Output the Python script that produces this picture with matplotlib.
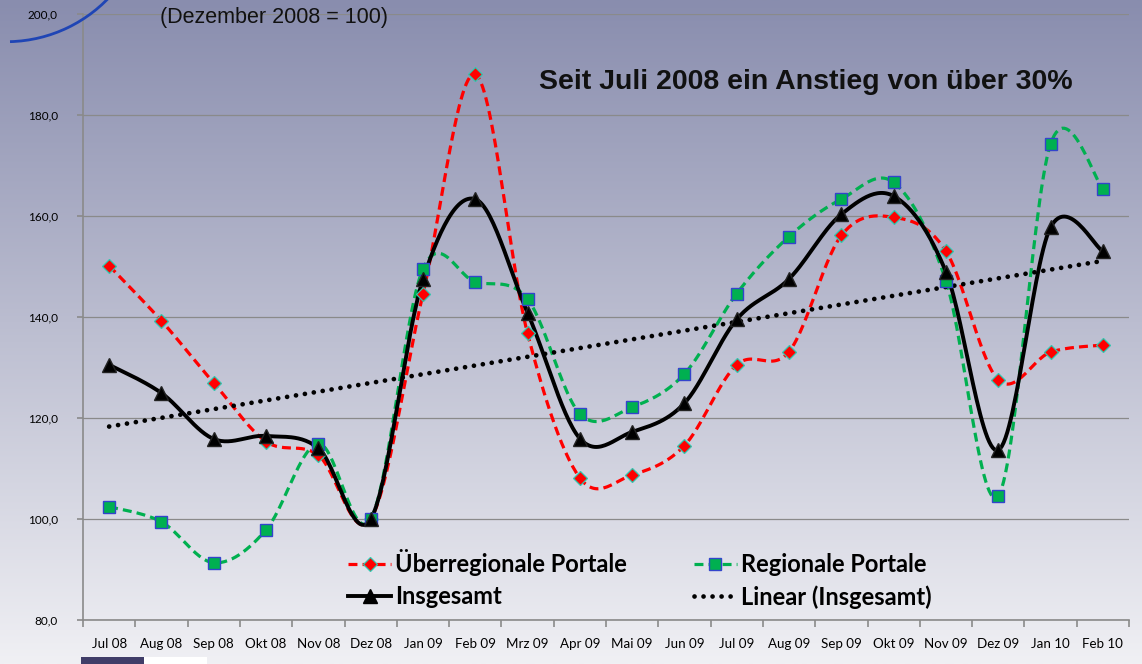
import numpy as np
import matplotlib
matplotlib.use("Agg")
import matplotlib.pyplot as plt
from matplotlib.lines import Line2D
from matplotlib.patches import Arc, Rectangle
from matplotlib.transforms import IdentityTransform
from matplotlib.ticker import FuncFormatter, FixedLocator

# --- data (index, Dezember 2008 = 100) ---
months = ["Jul 08", "Aug 08", "Sep 08", "Okt 08", "Nov 08", "Dez 08", "Jan 09",
          "Feb 09", "Mrz 09", "Apr 09", "Mai 09", "Jun 09", "Jul 09", "Aug 09",
          "Sep 09", "Okt 09", "Nov 09", "Dez 09", "Jan 10", "Feb 10"]
ueberregional = [150.2, 139.3, 127.0, 115.4, 112.7, 100.0, 144.6, 188.1, 136.8, 108.2,
                 108.8, 114.6, 130.6, 133.2, 156.2, 159.8, 153.1, 127.6, 133.1, 134.5]
regional = [102.5, 99.5, 91.4, 97.9, 115.0, 100.0, 149.6, 147.0, 143.6, 120.9,
            122.2, 128.8, 144.7, 156.0, 163.4, 166.7, 147.2, 104.6, 174.3, 165.5]
insgesamt = [130.6, 125.0, 115.9, 116.5, 114.1, 100.0, 147.5, 163.4, 140.9, 116.0,
             117.3, 123.0, 139.6, 147.6, 160.4, 164.0, 149.0, 113.7, 157.8, 153.1]

title_sub = "(Dezember 2008 = 100)"
note = "Seit Juli 2008 ein Anstieg von über 30%"


def excel_smooth(values, steps=30):
    """Bezier smoothing like Excel's 'smoothed line' option."""
    y = np.asarray(values, dtype=float)
    pts = np.column_stack([np.arange(len(y), dtype=float), y])
    ext = np.vstack([pts[0], pts, pts[-1]])
    t = np.linspace(0, 1, steps)[:, None]
    out = []
    for i in range(len(pts) - 1):
        p0, p1, p2, p3 = ext[i], ext[i + 1], ext[i + 2], ext[i + 3]
        c1 = p1 + (p2 - p0) / 6.0
        c2 = p2 - (p3 - p1) / 6.0
        seg = (1 - t) ** 3 * p1 + 3 * (1 - t) ** 2 * t * c1 + 3 * (1 - t) * t ** 2 * c2 + t ** 3 * p2
        out.append(seg if i == 0 else seg[1:])
    out = np.vstack(out)
    return out[:, 0], out[:, 1]


W, H = 1142, 664
fig = plt.figure(figsize=(W / 100, H / 100), dpi=100)

# gradient background
bg = fig.add_axes([0, 0, 1, 1], zorder=0)
top = np.array([137, 141, 174]) / 255
bottom = np.array([240, 240, 244]) / 255
tt = np.linspace(0, 1, 256)[:, None]
grad = (1 - tt) * top + tt * bottom
bg.imshow(grad[:, None, :], aspect="auto", extent=[0, 1, 0, 1])
bg.set_axis_off()

x = np.arange(len(months))
ax = fig.add_axes([83 / W, (H - 620.3) / H, (1129 - 83) / W, 606 / H], zorder=1)
ax.patch.set_alpha(0)

ax.set_xlim(-0.5, len(months) - 0.5)
ax.set_ylim(80, 200)
ax.set_yticks(np.arange(80, 201, 20))
ax.yaxis.set_major_formatter(FuncFormatter(lambda v, p: f"{v:.1f}".replace(".", ",")))
ax.grid(axis="y", color="#8a8a8a", linewidth=0.9)
ax.set_axisbelow(True)
for s in ["top", "right"]:
    ax.spines[s].set_visible(False)
for s in ["left", "bottom"]:
    ax.spines[s].set_color("#8a8a8a")
    ax.spines[s].set_linewidth(1.2)

# category labels centred, tick marks between categories
ax.set_xticks(x)
ax.set_xticklabels(months, fontfamily="Lato", fontsize=9.6)
ax.tick_params(axis="x", length=0, pad=13)
ax.xaxis.set_minor_locator(FixedLocator(np.arange(-0.5, len(months), 1)))
ax.tick_params(axis="x", which="minor", length=5, color="#8a8a8a", width=1.2)
ax.tick_params(axis="y", length=4, color="#8a8a8a", width=1.2, labelsize=8.5, pad=14)
for lbl in ax.get_yticklabels():
    lbl.set_fontfamily("Lato")

# series
xs, ys = excel_smooth(ueberregional)
ax.plot(xs, ys, color="#ff0000", lw=2.3, ls=(0, (2.8, 1.6)), zorder=3)
ax.plot(x, ueberregional, ls="none", marker="D", ms=7.2, mfc="#ff0000",
        mec="#30c8b0", mew=0.9, zorder=5)

xs, ys = excel_smooth(regional)
ax.plot(xs, ys, color="#00b050", lw=2.3, ls=(0, (2.8, 1.6)), zorder=3)
ax.plot(x, regional, ls="none", marker="s", ms=8, mfc="#00b050",
        mec="#3344cc", mew=1.0, zorder=5)

xs, ys = excel_smooth(insgesamt)
ax.plot(xs, ys, color="black", lw=2.8, zorder=4)
ax.plot(x, insgesamt, ls="none", marker="^", ms=9.5, mfc="black",
        mec="#222222", zorder=6)

# linear trend of Insgesamt
k, d = np.polyfit(x, insgesamt, 1)
ax.plot(x, k * x + d, color="black", lw=3.4, ls=(0, (0.01, 1.9)),
        dash_capstyle="round", zorder=4)

# legend
h_ue = Line2D([], [], color="#ff0000", lw=2.3, ls=(0, (2.8, 1.6)), marker="D", ms=7.2,
              mfc="#ff0000", mec="#30c8b0", mew=0.9)
h_in = Line2D([], [], color="black", lw=2.8, marker="^", ms=9.5, mfc="black")
h_re = Line2D([], [], color="#00b050", lw=2.3, ls=(0, (2.8, 1.6)), marker="s", ms=8,
              mfc="#00b050", mec="#3344cc", mew=1.0)
h_li = Line2D([], [], color="black", lw=3.4, ls=(0, (0.01, 1.9)), dash_capstyle="round")
F = 17
px = F * 100 / 72
leg = ax.legend([h_ue, h_in, h_re, h_li],
                ["Überregionale Portale", "Insgesamt", "Regionale Portale", "Linear (Insgesamt)"],
                ncol=2, frameon=False, loc="center left",
                bbox_to_anchor=((348 - 83) / 1046, (620.3 - 579) / 606),
                prop={"family": "Lato", "weight": "bold", "size": F},
                handlelength=43 / px, handletextpad=4 / px, columnspacing=67 / px,
                labelspacing=0.36, borderpad=0, borderaxespad=0, numpoints=1)
leg.set_zorder(7)

# texts
fig.text(160 / W, 1 - 17 / H, title_sub, fontfamily="Liberation Sans", fontsize=15.5,
         va="center", ha="left", color="#111111")
fig.text(539 / W, 1 - 82 / H, note, fontfamily="Liberation Sans", fontweight="bold",
         fontsize=20.5, va="center", ha="left", color="#111111")

# slide decorations
fig.add_artist(Arc((6.3, H + 99.9), 2 * 141.6, 2 * 141.6, theta1=-88.5, theta2=-40,
                   transform=IdentityTransform(), color="#1f45b5", lw=2.0, zorder=8))
fig.add_artist(Rectangle((80.5, 0), 63, H - 657.3, transform=IdentityTransform(),
                         facecolor="#403d68", edgecolor="none", zorder=8))
fig.add_artist(Rectangle((143.5, 0), 63, H - 657.3, transform=IdentityTransform(),
                         facecolor="white", edgecolor="none", zorder=8))

fig.savefig("out.png", dpi=100)
